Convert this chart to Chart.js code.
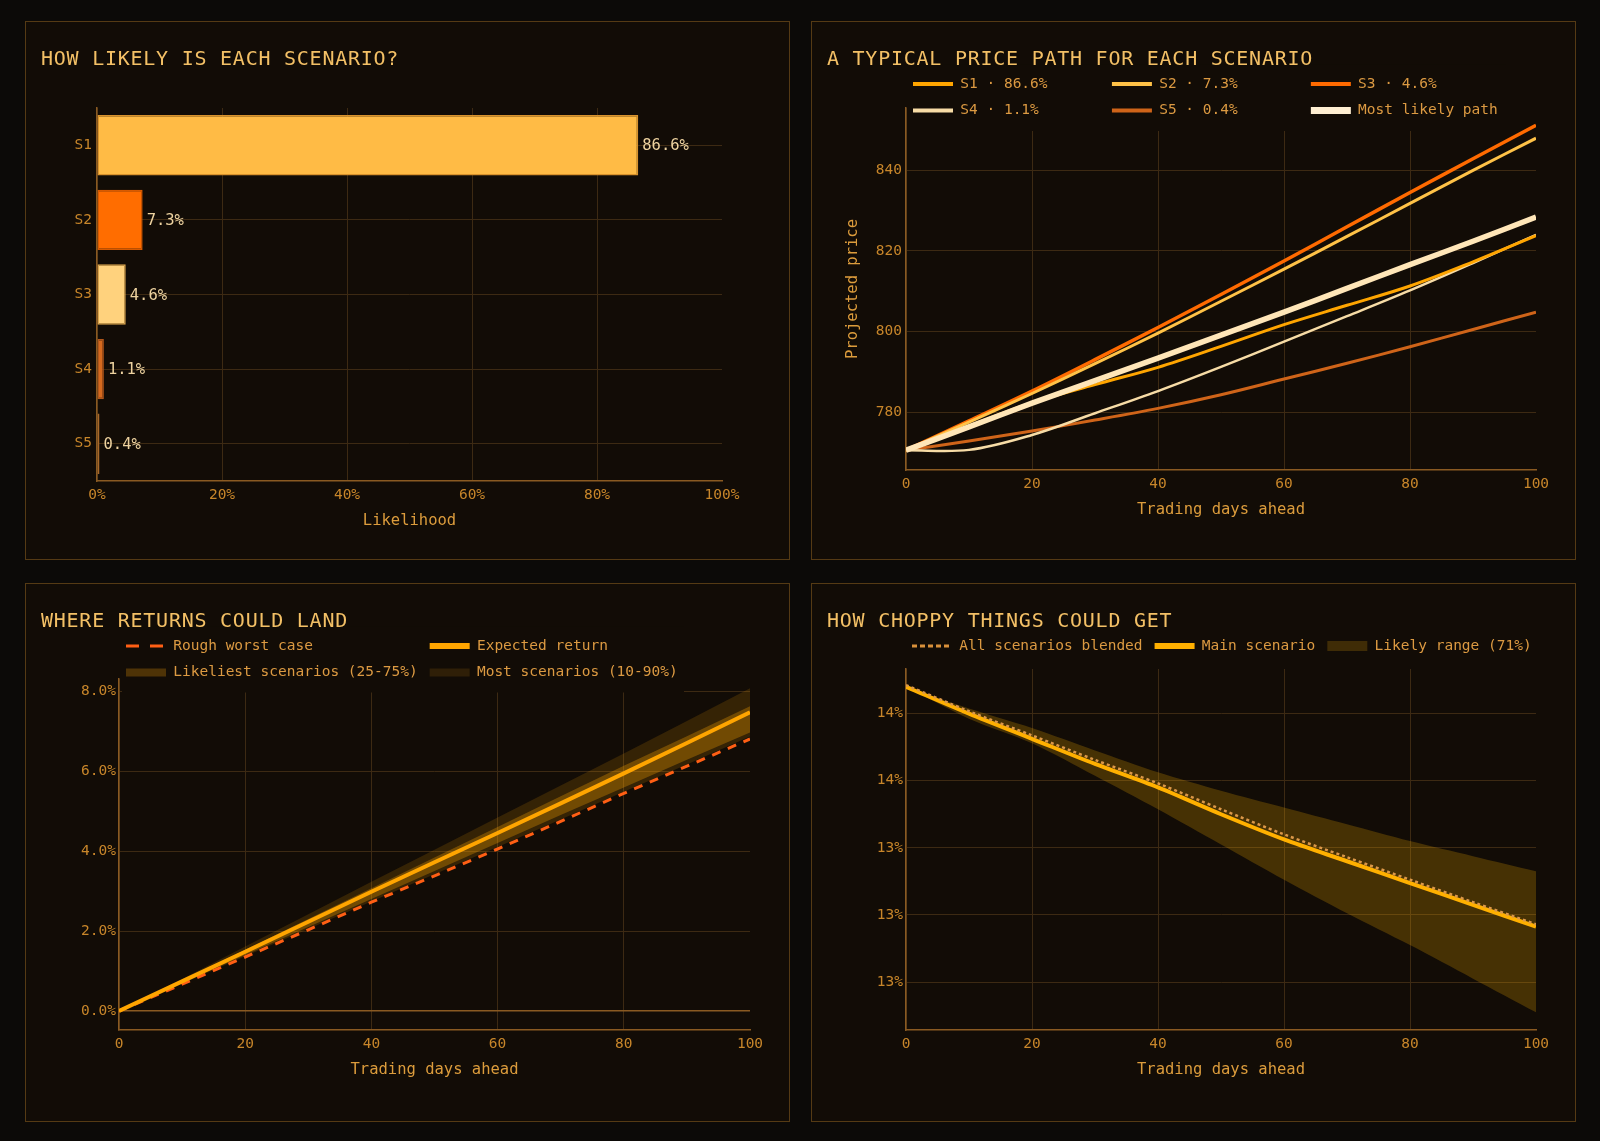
<!DOCTYPE html>
<html>
<head>
<meta charset="utf-8">
<script src="https://cdn.jsdelivr.net/npm/chart.js@4.4.1/dist/chart.umd.min.js"></script>
<style>
html,body{margin:0;padding:0;background:#0c0a08;}
body{width:1600px;height:1141px;position:relative;overflow:hidden;font-family:'DejaVu Sans Mono',monospace;}
.panel{position:absolute;width:763px;height:537px;border:1px solid #553a14;background:#120c06;}
.panel h2{position:absolute;left:15px;top:24px;margin:0;font-weight:normal;font-size:20px;line-height:24px;letter-spacing:0.75px;color:#f3c066;white-space:nowrap;font-family:'DejaVu Sans Mono',monospace;}
.panel canvas{position:absolute;left:0;top:0;}
</style>
</head>
<body>
<div class="panel" style="left:25px;top:21px;"><canvas id="c1" width="763" height="537"></canvas><h2>HOW LIKELY IS EACH SCENARIO?</h2></div>
<div class="panel" style="left:811px;top:21px;"><canvas id="c2" width="763" height="537"></canvas><h2>A TYPICAL PRICE PATH FOR EACH SCENARIO</h2></div>
<div class="panel" style="left:25px;top:583px;"><canvas id="c3" width="763" height="537"></canvas><h2>WHERE RETURNS COULD LAND</h2></div>
<div class="panel" style="left:811px;top:583px;"><canvas id="c4" width="763" height="537"></canvas><h2>HOW CHOPPY THINGS COULD GET</h2></div>
<script>
// ---------------- DATA ----------------
const scenarioNames = ['S1', 'S2', 'S3', 'S4', 'S5'];
const scenarioProbs = [86.6, 7.3, 4.6, 1.1, 0.4];

const days = [0, 10, 20, 30, 40, 50, 60, 70, 80, 90, 100];

const pathS1 = [770.5, 776.5, 782.3, 786.8, 791.1, 796.3, 801.7, 806.5, 811.3, 817.3, 823.8];
const pathS2 = [770.5, 777.5, 784.6, 792.0, 799.6, 807.5, 815.5, 823.6, 831.8, 840.0, 848.0];
const pathS3 = [770.5, 777.8, 785.2, 793.0, 801.0, 809.2, 817.5, 826.0, 834.5, 842.9, 851.2];
const pathS4 = [770.5, 770.6, 774.3, 779.7, 785.2, 791.2, 797.5, 803.8, 810.2, 817.0, 824.0];
const pathS5 = [770.5, 772.8, 775.3, 778.0, 780.9, 784.3, 788.2, 792.1, 796.2, 800.5, 804.8];
const pathMostLikely = [770.5, 776.3, 782.2, 787.8, 793.4, 799.1, 804.8, 810.7, 816.6, 822.4, 828.4];
const mostLikelyLabel = 'Most likely path';

const retExpected = [0, 0.74, 1.48, 2.23, 2.98, 3.72, 4.45, 5.19, 5.94, 6.70, 7.47];
const retWorst    = [0, 0.67, 1.35, 2.03, 2.72, 3.38, 4.05, 4.74, 5.44, 6.12, 6.80];
const retP90      = [0, 0.80, 1.61, 2.42, 3.23, 4.03, 4.84, 5.64, 6.44, 7.25, 8.07];
const retP75      = [0, 0.76, 1.53, 2.30, 3.07, 3.84, 4.60, 5.37, 6.13, 6.87, 7.62];
const retP25      = [0, 0.70, 1.40, 2.10, 2.80, 3.50, 4.20, 4.90, 5.59, 6.28, 6.96];
const retP10      = [0, 0.68, 1.37, 2.05, 2.74, 3.42, 4.10, 4.79, 5.48, 6.16, 6.86];
const retLabels = ['Rough worst case', 'Expected return', 'Likeliest scenarios (25-75%)', 'Most scenarios (10-90%)'];

const volMain  = [13.88, 13.80, 13.725, 13.65, 13.58, 13.50, 13.425, 13.36, 13.295, 13.23, 13.165];
const volBlend = [13.885, 13.807, 13.735, 13.662, 13.592, 13.515, 13.44, 13.372, 13.305, 13.238, 13.172];
const volHigh  = [13.88, 13.815, 13.757, 13.69, 13.625, 13.57, 13.52, 13.47, 13.42, 13.375, 13.33];
const volLow   = [13.88, 13.785, 13.712, 13.615, 13.515, 13.41, 13.305, 13.205, 13.11, 13.01, 12.91];
const volLabels = ['All scenarios blended', 'Main scenario', 'Likely range (71%)'];

// ---------------- STYLE ----------------
const FONT = "'DejaVu Sans Mono', monospace";
const PANEL_BG = '#120c06';
const GRID = '#3d2a13';
const AXIS = '#8a5a22';
const TICK = '#c8862a';
const AXIS_TITLE = '#dc9c3c';
const LEGEND_TXT = '#dc9a42';

Chart.defaults.font.family = FONT;
Chart.defaults.font.size = 14.5;
Chart.defaults.color = TICK;
Chart.defaults.animation = false;

const pts = arr => days.map((d, i) => ({x: d, y: arr[i]}));
const pad = (arr) => { const m = Math.max(...arr.map(s => s.length)); return arr.map(s => s.padEnd(m, ' ')); };

const legendPlace = {
  id: 'legendPlace',
  afterLayout(chart, args, opts) {
    const lg = chart.legend;
    if (!lg || opts.x === undefined) return;
    const p = chart.options.plugins.legend.labels.padding;
    const w = lg.right - lg.left;
    lg.left = opts.x - p;
    lg.right = lg.left + w;
    lg.top = opts.y;
    lg.bottom = opts.y + lg.height;
  },
  beforeDatasetsDraw(chart, args, opts) {
    if (!opts.cover) return;
    const c = opts.cover, ctx = chart.ctx;
    ctx.save();
    ctx.fillStyle = PANEL_BG;
    ctx.fillRect(c.x0, chart.legend.top, c.x1 - c.x0, c.y1 - chart.legend.top);
    ctx.restore();
    chart.legend.draw();
  }
};

const barLabels = {
  id: 'barLabels',
  afterDatasetsDraw(chart) {
    const ctx = chart.ctx;
    const meta = chart.getDatasetMeta(0);
    ctx.save();
    ctx.font = '15.5px ' + FONT;
    ctx.fillStyle = '#eed3a0';
    ctx.textBaseline = 'middle';
    ctx.textAlign = 'left';
    meta.data.forEach((bar, i) => {
      ctx.fillText(scenarioProbs[i].toFixed(1) + '%', bar.x + 4, bar.y + 1);
    });
    ctx.restore();
  }
};

const gridNoMax = (max) => (c => (c.tick && c.tick.value === max) ? 'rgba(0,0,0,0)' : GRID);
const xDays = (h) => ({
  type: 'linear', min: 0, max: 100,
  ticks: { stepSize: 20, padding: 6, color: TICK },
  grid: { color: gridNoMax(100), drawTicks: false },
  border: { color: AXIS, width: 1.5 },
  title: { display: true, text: 'Trading days ahead', color: AXIS_TITLE, font: { size: 15.5 }, padding: { top: 0, bottom: 3 } },
  afterFit: s => { s.height = h; }
});

function legendOpts(items) {
  return {
    display: true, position: 'top', align: 'start',
    labels: {
      usePointStyle: true, pointStyleWidth: 40, boxWidth: 40, padding: 12,
      color: LEGEND_TXT, font: { size: 14.5 },
      generateLabels: () => items.map((it, i) => ({
        text: it.text, fillStyle: 'rgba(0,0,0,0)', strokeStyle: it.color, lineWidth: it.w,
        lineDash: it.dash || [], lineCap: 'butt', pointStyle: 'line', hidden: false,
        datasetIndex: i, fontColor: LEGEND_TXT
      }))
    }
  };
}

// ---------------- CHART 1 ----------------
const barColors = ['#ffbb45', '#ff6d00', '#ffd27d', '#d4691e', '#c9873a'];
const barBorders = ['#d9922c', '#d85a00', '#d9a24a', '#b0561a', '#a8682a'];
new Chart(document.getElementById('c1'), {
  type: 'bar',
  data: { labels: scenarioNames, datasets: [{ data: scenarioProbs, backgroundColor: barColors, borderColor: barBorders, borderWidth: 1.5, borderSkipped: false, categoryPercentage: 0.9, barPercentage: 0.9 }] },
  options: {
    indexAxis: 'y', responsive: false,
    layout: { padding: { left: 0, right: 67, top: 86, bottom: 26 } },
    plugins: { legend: { display: false }, tooltip: { enabled: false } },
    scales: {
      x: {
        min: 0, max: 100,
        ticks: { stepSize: 20, callback: v => v + '%', padding: 6 },
        grid: { color: gridNoMax(100), drawTicks: false },
        border: { color: AXIS, width: 1.5 },
        title: { display: true, text: 'Likelihood', color: AXIS_TITLE, font: { size: 15.5 }, padding: { top: 0, bottom: 3 } },
        afterFit: s => { s.height = 52; }
      },
      y: {
        grid: { offset: false, color: GRID, drawTicks: false },
        border: { color: AXIS, width: 1.5 },
        ticks: { padding: 5 },
        afterFit: s => { s.width = 71; }
      }
    }
  },
  plugins: [barLabels]
});

// ---------------- CHART 2 ----------------
const pathColors = ['#ffa500', '#ffc247', '#ff6a00', '#f7dca6', '#cf6419'];
const pathSeries = [pathS1, pathS2, pathS3, pathS4, pathS5];
const pathWidths = [3, 3, 3.5, 2.5, 3];
const pathLegendText = pad(scenarioNames.map((n, i) => n + ' · ' + scenarioProbs[i].toFixed(1) + '%').concat([mostLikelyLabel]));
const ds2 = pathSeries.map((s, i) => ({
  label: scenarioNames[i], data: pts(s), borderColor: pathColors[i], borderWidth: pathWidths[i],
  pointRadius: 0, fill: false, tension: 0.35, order: 1 + i
}));
ds2.push({ label: mostLikelyLabel, data: pts(pathMostLikely), borderColor: '#ffe6b8', borderWidth: 5.5, pointRadius: 0, fill: false, tension: 0.35, order: 0 });
new Chart(document.getElementById('c2'), {
  type: 'line',
  data: { datasets: ds2 },
  options: {
    responsive: false,
    layout: { padding: { left: 0, right: 39, top: 23, bottom: 37 } },
    plugins: {
      tooltip: { enabled: false },
      legend: legendOpts(pathLegendText.map((t, i) => ({ text: t, color: i < 5 ? pathColors[i] : '#ffefd2', w: i < 5 ? 4 : 7 }))),
      legendPlace: { x: 101, y: 42.75, cover: { x0: 97, x1: 694, y1: 109 } }
    },
    scales: {
      x: xDays(52),
      y: {
        type: 'linear', min: 765.6, max: 855.5,
        ticks: { stepSize: 20, includeBounds: false, padding: 4 },
        grid: { color: GRID, drawTicks: false },
        border: { color: AXIS, width: 1.5 },
        title: { display: true, text: 'Projected price', color: AXIS_TITLE, font: { size: 15.5 }, padding: { top: 32, bottom: 0 } },
        afterFit: s => { s.width = 94; }
      }
    }
  },
  plugins: [legendPlace]
});

// ---------------- CHART 3 ----------------
const retLegendText = pad(retLabels);
const BAND_IN = 'rgba(255,165,0,0.30)';
const BAND_OUT = 'rgba(255,170,0,0.15)';
new Chart(document.getElementById('c3'), {
  type: 'line',
  data: {
    datasets: [
      { label: retLabels[1], data: pts(retExpected), borderColor: '#ffa500', borderWidth: 4, pointRadius: 0, fill: false },
      { label: retLabels[0], data: pts(retWorst), borderColor: '#ff5f14', borderWidth: 3, borderDash: [9, 8], pointRadius: 0, fill: false },
      { label: 'p75', data: pts(retP75), borderWidth: 0, borderColor: 'rgba(0,0,0,0)', backgroundColor: BAND_IN, pointRadius: 0, fill: 3 },
      { label: 'p25', data: pts(retP25), borderWidth: 0, borderColor: 'rgba(0,0,0,0)', pointRadius: 0, fill: false },
      { label: 'p90', data: pts(retP90), borderWidth: 0, borderColor: 'rgba(0,0,0,0)', backgroundColor: BAND_OUT, pointRadius: 0, fill: 5 },
      { label: 'p10', data: pts(retP10), borderWidth: 0, borderColor: 'rgba(0,0,0,0)', pointRadius: 0, fill: false }
    ]
  },
  options: {
    responsive: false,
    layout: { padding: { left: 0, right: 39, top: 32, bottom: 39 } },
    plugins: {
      tooltip: { enabled: false },
      legend: legendOpts([
        { text: retLegendText[0], color: '#ff5f14', w: 3, dash: [13, 11] },
        { text: retLegendText[1], color: '#ffa500', w: 6 },
        { text: retLegendText[2], color: '#4e3306', w: 8 },
        { text: retLegendText[3], color: '#2f1f07', w: 8 }
      ]),
      legendPlace: { x: 100, y: 42.75, cover: { x0: 96, x1: 658, y1: 108.5 } }
    },
    scales: {
      x: xDays(52),
      y: {
        type: 'linear', min: -0.475, max: 8.3,
        ticks: { stepSize: 2, includeBounds: false, padding: 3, callback: v => v.toFixed(1) + '%' },
        grid: { color: c => (c.tick && c.tick.value === 0) ? AXIS : GRID, lineWidth: c => (c.tick && c.tick.value === 0) ? 1.5 : 1, drawTicks: false },
        border: { color: AXIS, width: 1.5 },
        afterFit: s => { s.width = 93; }
      }
    }
  },
  plugins: [legendPlace]
});

// ---------------- CHART 4 ----------------
const BAND_VOL = 'rgba(255,180,0,0.22)';
new Chart(document.getElementById('c4'), {
  type: 'line',
  data: {
    datasets: [
      { label: volLabels[0], data: pts(volBlend), borderColor: '#dc9848', borderWidth: 2.5, borderDash: [3, 3], pointRadius: 0, fill: false, tension: 0.3 },
      { label: volLabels[1], data: pts(volMain), borderColor: '#ffb000', borderWidth: 4, pointRadius: 0, fill: false, tension: 0.3 },
      { label: 'high', data: pts(volHigh), borderWidth: 0, borderColor: 'rgba(0,0,0,0)', backgroundColor: BAND_VOL, pointRadius: 0, fill: 3, tension: 0.3 },
      { label: 'low', data: pts(volLow), borderWidth: 0, borderColor: 'rgba(0,0,0,0)', pointRadius: 0, fill: false, tension: 0.3 }
    ]
  },
  options: {
    responsive: false,
    layout: { padding: { left: 0, right: 39, top: 48.5, bottom: 39 } },
    plugins: {
      tooltip: { enabled: false },
      legend: legendOpts([
        { text: volLabels[0], color: '#d8903a', w: 3, dash: [5, 3] },
        { text: volLabels[1], color: '#ffb000', w: 6 },
        { text: volLabels[2], color: '#3f2c06', w: 10 }
      ]),
      legendPlace: { x: 100, y: 42.75 }
    },
    scales: {
      x: xDays(52),
      y: {
        type: 'linear', min: 12.857, max: 13.933,
        ticks: { stepSize: 0.2, includeBounds: false, padding: 3, callback: v => v.toFixed(0) + '%' },
        grid: { color: GRID, drawTicks: false },
        border: { color: AXIS, width: 1.5 },
        afterFit: s => { s.width = 94; }
      }
    }
  },
  plugins: [legendPlace]
});
</script>
</body>
</html>
